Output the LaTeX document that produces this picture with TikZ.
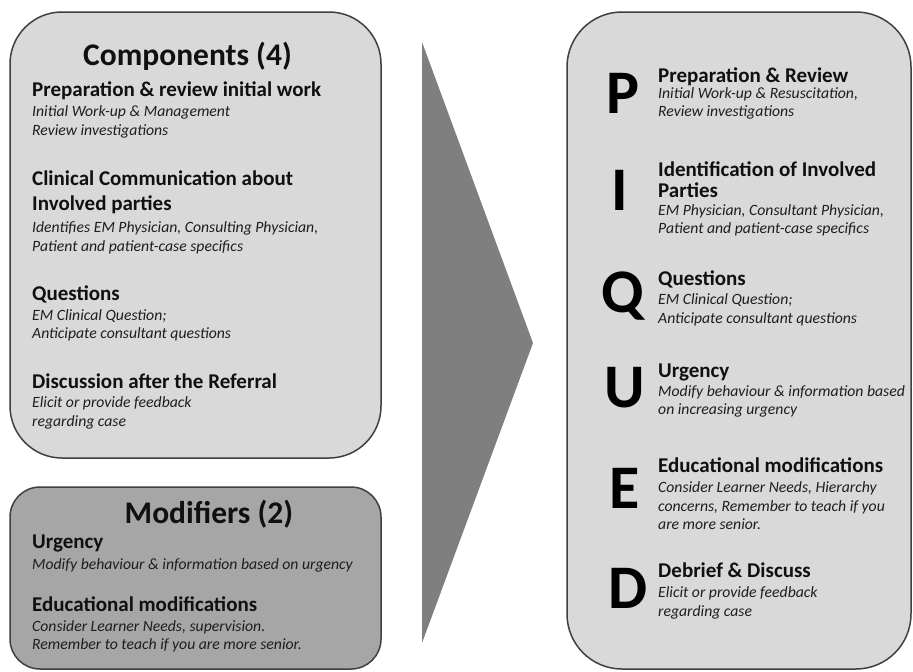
\documentclass[tikz,border=0pt]{standalone}
\usepackage{fontspec}
\setmainfont{Carlito}
\definecolor{boxlight}{HTML}{D9D9D9}
\definecolor{boxdark}{HTML}{A6A6A6}
\definecolor{arrowgray}{HTML}{7F7F7F}
\definecolor{edgegray}{HTML}{404040}
\definecolor{headtxt}{HTML}{101010}
\definecolor{desctxt}{HTML}{1E1E1E}
\begin{document}
\begin{tikzpicture}[x=1pt,y=-1pt,
  boxshape/.style={draw=edgegray,line width=1.5pt},
  titletxt/.style={font=\fontsize{31.5}{36}\selectfont\bfseries,text=headtxt,anchor=base,inner sep=0pt},
  headline/.style={font=\fontsize{21}{25}\selectfont\bfseries,text=headtxt,anchor=base west,inner sep=0pt},
  descline/.style={font=\fontsize{15.7}{19}\selectfont\itshape,text=desctxt,anchor=base west,inner sep=0pt},
  bigletter/.style={font=\fontsize{62}{70}\selectfont\bfseries,text=black,anchor=base,inner sep=0pt}]
\useasboundingbox (0,0) rectangle (913,672);
\fill[white] (0,0) rectangle (913,672);
% boxes
\draw[boxshape,fill=boxlight,rounded corners=52pt] (10,12) rectangle (381,458);
\draw[boxshape,fill=boxdark,rounded corners=30pt] (10,487) rectangle (381,669);
\draw[boxshape,fill=boxlight,rounded corners=55pt] (567,12) rectangle (911,669);
% big arrow
\fill[arrowgray] (422,42) -- (533,343) -- (422,643) -- cycle;
% left: components
\node[titletxt] (ctitle) at (187.5,65) {Components (4)};
\node[headline] (c1h) at (32,96) {Preparation \& review initial work};
\node[descline] (c1a) at (32,116) {Initial Work-up \& Management};
\node[descline] (c1b) at (32,135) {Review investigations};
\node[headline] (c2h) at (32,185) {Clinical Communication about};
\node[headline] (c2i) at (32,210) {Involved parties};
\node[descline] (c2a) at (32,232) {Identifies EM Physician, Consulting Physician,};
\node[descline] (c2b) at (32,251) {Patient and patient-case specifics};
\node[headline] (c3h) at (32,300) {Questions};
\node[descline] (c3a) at (32,320) {EM Clinical Question;};
\node[descline] (c3b) at (32,338) {Anticipate consultant questions};
\node[headline] (c4h) at (32,388) {Discussion after the Referral};
\node[descline] (c4a) at (32,407) {Elicit or provide feedback};
\node[descline] (c4b) at (32,426) {regarding case};
% left: modifiers
\node[titletxt] (mtitle) at (209,523) {Modifiers (2)};
\node[headline] (m1h) at (32,548) {Urgency};
\node[descline] (m1a) at (32,569) {Modify behaviour \& information based on urgency};
\node[headline] (m2h) at (32,611) {Educational modifications};
\node[descline] (m2a) at (32,631) {Consider Learner Needs, supervision.};
\node[descline] (m2b) at (32,649) {Remember to teach if you are more senior.};
% right: PIQUED
\node[bigletter] (lp) at (623,113) {P};
\node[bigletter] (li) at (620,210) {I};
\node[bigletter] (lq) at (623,312) {Q};
\node[bigletter] (lu) at (625,407) {U};
\node[bigletter] (le) at (625,508) {E};
\node[bigletter] (ld) at (628,608) {D};
\node[headline] (p1h) at (658,82) {Preparation \& Review};
\node[descline] (p1a) at (658,98) {Initial Work-up \& Resuscitation,};
\node[descline] (p1b) at (658,116) {Review investigations};
\node[headline] (p2h) at (658,176) {Identification of Involved};
\node[headline] (p2i) at (658,197) {Parties};
\node[descline] (p2a) at (658,215) {EM Physician, Consultant Physician,};
\node[descline] (p2b) at (658,233) {Patient and patient-case specifics};
\node[headline] (p3h) at (658,285) {Questions};
\node[descline] (p3a) at (658,304) {EM Clinical Question;};
\node[descline] (p3b) at (658,323) {Anticipate consultant questions};
\node[headline] (p4h) at (658,377) {Urgency};
\node[descline] (p4a) at (658,396) {Modify behaviour \& information based};
\node[descline] (p4b) at (658,414) {on increasing urgency};
\node[headline] (p5h) at (658,472) {Educational modifications};
\node[descline] (p5a) at (658,492) {Consider Learner Needs, Hierarchy};
\node[descline] (p5b) at (658,511) {concerns, Remember to teach if you};
\node[descline] (p5c) at (658,529) {are more senior.};
\node[headline] (p6h) at (658,577) {Debrief \& Discuss};
\node[descline] (p6a) at (658,597) {Elicit or provide feedback};
\node[descline] (p6b) at (658,616) {regarding case};
\end{tikzpicture}
\end{document}
